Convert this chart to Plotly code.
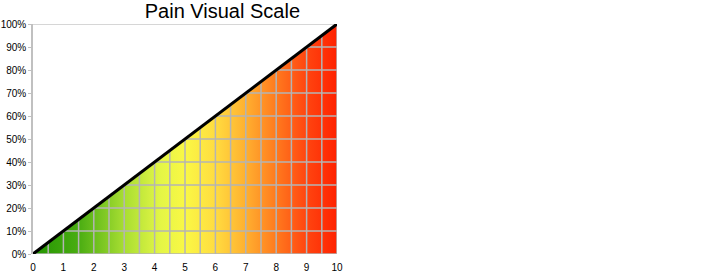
import plotly.graph_objects as go

pain_levels = [0, 1, 2, 3, 4, 5, 6, 7, 8, 9, 10]
pain_percent = [0, 10, 20, 30, 40, 50, 60, 70, 80, 90, 100]
x_ticks = [0, 1, 2, 3, 4, 5, 6, 7, 8, 9, 10]
y_ticks = [0, 10, 20, 30, 40, 50, 60, 70, 80, 90, 100]
y_tick_labels = [f"{v}%" for v in y_ticks]
x_grid = [i * 0.5 for i in range(21)]

gradient = [
    [0.0, "#219400"],
    [0.15, "#4aad12"],
    [0.3, "#a8de32"],
    [0.42, "#e4f646"],
    [0.5, "#faf845"],
    [0.6, "#ffdc40"],
    [0.7, "#ffb030"],
    [0.8, "#ff7a1e"],
    [0.9, "#ff4510"],
    [1.0, "#ff2200"],
]

fig = go.Figure()

fig.add_trace(go.Scatter(
    x=pain_levels, y=pain_percent, mode="lines", line=dict(width=0),
    fill="tozeroy",
    fillgradient=dict(type="horizontal", colorscale=gradient, start=0, stop=10),
    hoverinfo="skip", showlegend=False,
))

# grid lines clipped to the filled region
slope = (pain_percent[-1] - pain_percent[0]) / (pain_levels[-1] - pain_levels[0])
gx, gy = [], []
for xv in x_grid:
    gx += [xv, xv, None]
    gy += [0, xv * slope, None]
for yv in y_ticks:
    gx += [yv / slope, pain_levels[-1], None]
    gy += [yv, yv, None]
fig.add_trace(go.Scatter(
    x=gx, y=gy, mode="lines", line=dict(color="#b4b4b4", width=1.5),
    hoverinfo="skip", showlegend=False,
))

fig.add_trace(go.Scatter(
    x=pain_levels, y=pain_percent, mode="lines",
    line=dict(color="#000000", width=3),
    showlegend=False,
))

fig.update_layout(
    width=722, height=279,
    margin=dict(l=33, r=385, t=24, b=25, autoexpand=False),
    paper_bgcolor="white", plot_bgcolor="white",
    title=dict(text="Pain Visual Scale", x=0.308, xanchor="center", y=0.961, yanchor="middle",
               automargin=False,
               font=dict(family="Liberation Sans, Arial", size=20, color="#000000")),
    font=dict(family="Liberation Sans, Arial", size=10, color="#000000"),
)
fig.update_xaxes(
    range=[0, 10], tickvals=x_ticks, ticktext=[str(v) for v in x_ticks],
    showgrid=False, zeroline=False, showline=False,
    ticks="outside", ticklen=4, tickcolor="rgba(0,0,0,0)", automargin=False,
    tickfont=dict(size=10, color="#000000"),
)
fig.update_yaxes(
    range=[0, 100], tickvals=y_ticks, ticktext=y_tick_labels,
    showgrid=False, zeroline=False, showline=True, linecolor="#c0c0c0", linewidth=1.5,
    ticks="outside", ticklen=3, tickcolor="#c0c0c0", automargin=False,
    tickfont=dict(size=10, color="#000000"),
)
fig.add_shape(type="line", xref="x", yref="y", x0=0, x1=10, y0=100, y1=100,
              line=dict(color="#c8c8c8", width=1.5), layer="below")

fig.write_html("out.html", config={"displayModeBar": False},
               post_script="document.body.style.margin='0';document.body.style.overflow='hidden';")
